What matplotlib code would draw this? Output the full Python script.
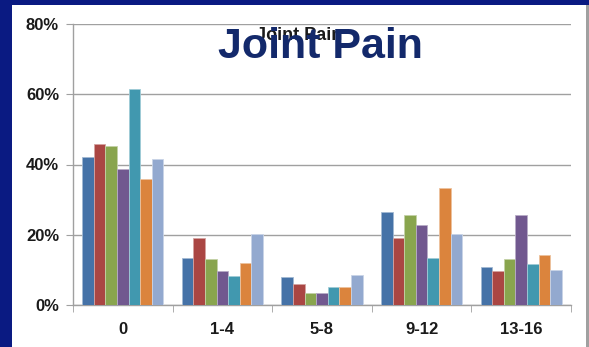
import matplotlib
matplotlib.use("Agg")
import matplotlib.pyplot as plt
import numpy as np
from matplotlib.patches import Rectangle
from matplotlib.colors import to_rgb

categories = ["0", "1-4", "5-8", "9-12", "13-16"]
s1 = [42.0, 13.3, 8.0, 26.4, 10.7]
s2 = [45.9, 19.2, 5.9, 19.2, 9.8]
s3 = [45.2, 13.0, 3.3, 25.7, 13.1]
s4 = [38.6, 9.8, 3.3, 22.7, 25.7]
s5 = [61.4, 8.3, 5.2, 13.5, 11.8]
s6 = [35.8, 11.9, 5.0, 33.3, 14.3]
s7 = [41.6, 20.2, 8.4, 20.1, 10.0]
series = [s1, s2, s3, s4, s5, s6, s7]
colors = ["#4572A7", "#AA4643", "#89A54E", "#71588F", "#4198AF", "#DB843D", "#93A9CF"]
yticks = [0, 20, 40, 60, 80]
ytick_labels = ["0%", "20%", "40%", "60%", "80%"]

W, H = 589, 347
fig = plt.figure(figsize=(W / 100, H / 100), dpi=100)
navy = "#0a1a82"
fig.patch.set_facecolor(navy)
# white panel
fig.patches.append(Rectangle((12 / W, 0), (586 - 12) / W, (H - 5) / H,
                             transform=fig.transFigure, facecolor="white",
                             edgecolor="none", zorder=-2))
fig.patches.append(Rectangle((586 / W, 0), 3 / W, (H - 5) / H,
                             transform=fig.transFigure, facecolor="#a0a0a0",
                             edgecolor="none", zorder=-2))

ax = fig.add_axes([73 / W, (H - 305) / H, (571 - 73) / W, (305 - 24) / H])
ax.set_zorder(2)
ax.set_facecolor("none")

n = len(series)
bw = 0.1165
x = np.arange(len(categories))
for i, (vals, c) in enumerate(zip(series, colors)):
    off = (i - (n - 1) / 2) * bw
    edge = tuple(min(1, v * 0.5 + 0.5) for v in to_rgb(c))
    ax.bar(x + off, vals, width=bw, color=c, edgecolor=edge, linewidth=0.6, zorder=3)

ax.set_xlim(-0.5, len(categories) - 0.5)
ax.set_ylim(0, 80)
ax.set_yticks(yticks)
ax.set_yticklabels(ytick_labels, fontsize=12, fontweight="bold",
                   family="Liberation Sans", color="#1a1a1a")
ax.set_xticks(x)
ax.set_xticklabels(categories, fontsize=12, fontweight="bold",
                   family="Liberation Sans", color="#1a1a1a")
ax.set_xticks(np.arange(-0.5, len(categories), 1.0), minor=True)
ax.tick_params(axis="x", which="major", length=0, pad=12)
ax.tick_params(axis="x", which="minor", length=5, color="#a0a0a0", direction="out")
ax.tick_params(axis="y", length=5, color="#a0a0a0", direction="out", pad=5)
ax.yaxis.grid(True, color="#a0a0a0", linewidth=1.0, zorder=0)
ax.set_axisbelow(True)
for s in ["top", "right"]:
    ax.spines[s].set_visible(False)
for s in ["left", "bottom"]:
    ax.spines[s].set_color("#a0a0a0")
    ax.spines[s].set_linewidth(1.0)

# small chart title
fig.text(299 / W, 1 - 40 / H, "Joint Pain", ha="center", va="baseline",
         fontsize=13, fontweight="bold", family="Liberation Sans", color="#1a1a1a", zorder=5)
# big slide title
fig.text(320.5 / W, 1 - 58 / H, "Joint Pain", ha="center", va="baseline",
         fontsize=31, fontweight="bold", family="Liberation Sans", color="#13296b", zorder=6)

fig.savefig("out.png", dpi=100, facecolor=fig.get_facecolor())
